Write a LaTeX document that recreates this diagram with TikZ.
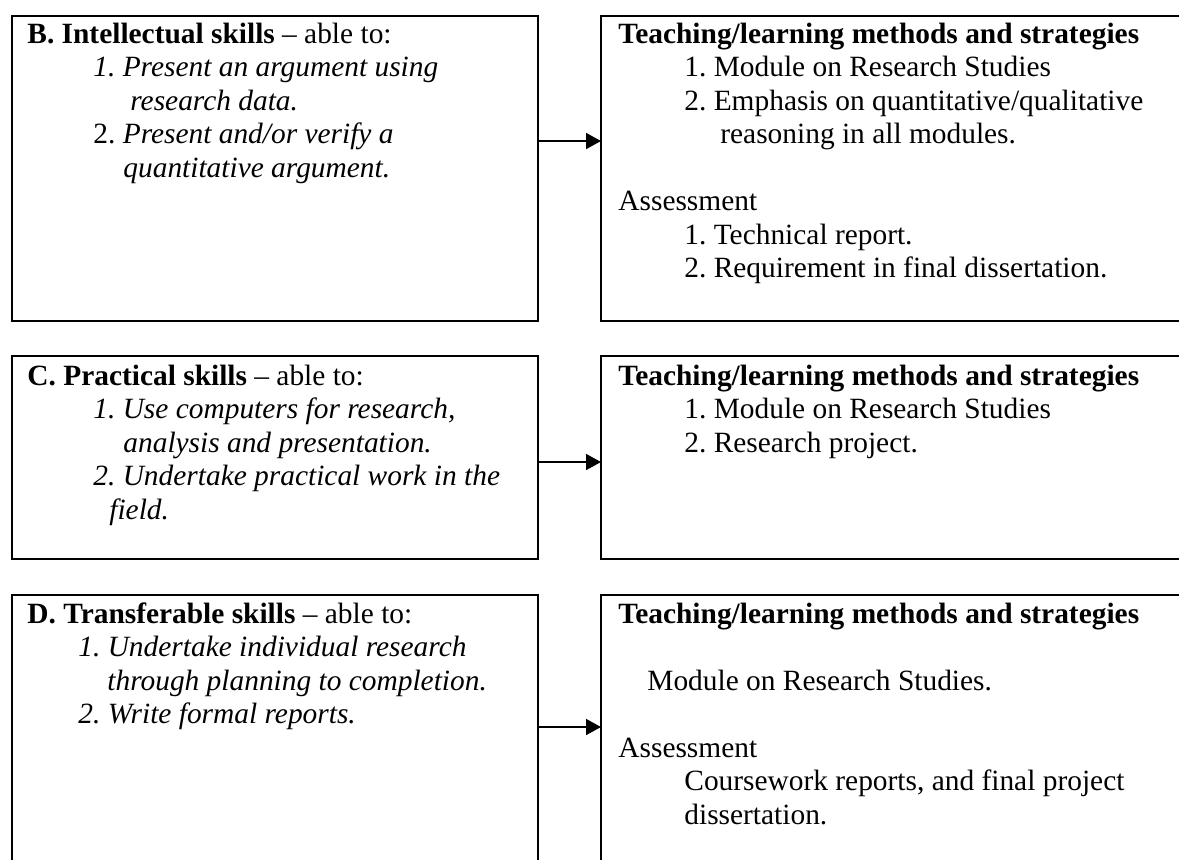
\documentclass[tikz,border=0pt]{standalone}
\usepackage{fontspec}
\setmainfont{Liberation Serif}
\usetikzlibrary{arrows.meta}
\newcommand\tline[2]{\hbox{\hspace*{#1}#2}}
\frenchspacing
\begin{document}
\begin{tikzpicture}[x=0.5pt,y=-0.5pt,
  box/.style={draw,line width=1pt,inner sep=0pt,outer sep=0pt,anchor=north west,minimum width=263pt},
  rbox/.style={box,minimum width=300pt},
  txt/.style={anchor=base west,inner sep=0pt,font=\fontsize{14.7}{16.75}\selectfont\frenchspacing},
  conn/.style={line width=0.8pt,-{Triangle[length=7.5pt,width=8pt]}}]
\useasboundingbox (0,0) rectangle (1179,859);
\clip (0,0) rectangle (1179,859);

% boxes
\node[box,minimum height=152.5pt] (Bl) at (12,16) {};
\node[rbox,minimum height=152.5pt] (Br) at (601,16) {};
\node[box,minimum height=101.5pt] (Cl) at (12,356) {};
\node[rbox,minimum height=101.5pt] (Cr) at (601,356) {};
\node[box,minimum height=150pt] (Dl) at (12,595) {};
\node[rbox,minimum height=150pt] (Dr) at (601,595) {};

% texts
\node[txt] (Blt) at (27,43) {\vtop{%
  \tline{0pt}{\textbf{B. Intellectual skills} – able to:}
  \tline{33pt}{\textit{1. Present an argument using}}
  \tline{51.5pt}{\textit{research data.}}
  \tline{33pt}{2. \textit{Present and/or verify a}}
  \tline{48pt}{\textit{quantitative argument.}}}};
\node[txt] (Brt) at (618,43) {\vtop{%
  \tline{0pt}{\textbf{Teaching/learning methods and strategies}}
  \tline{33pt}{1. Module on Research Studies}
  \tline{33pt}{2. Emphasis on quantitative/qualitative}
  \tline{51pt}{reasoning in all modules.}
  \hbox{}
  \tline{0pt}{Assessment}
  \tline{33pt}{1. Technical report.}
  \tline{33pt}{2. Requirement in final dissertation.}}};

\node[txt] (Clt) at (27,385) {\vtop{%
  \tline{0pt}{\textbf{C. Practical skills} – able to:}
  \tline{33pt}{\textit{1. Use computers for research,}}
  \tline{48pt}{\textit{analysis and presentation.}}
  \tline{33pt}{\textit{2. Undertake practical work in the}}
  \tline{41pt}{\textit{field.}}}};
\node[txt] (Crt) at (618,385) {\vtop{%
  \tline{0pt}{\textbf{Teaching/learning methods and strategies}}
  \tline{33pt}{1. Module on Research Studies}
  \tline{33pt}{2. Research project.}}};

\node[txt] (Dlt) at (27,623) {\vtop{%
  \tline{0pt}{\textbf{D. Transferable skills} – able to:}
  \tline{25.5pt}{\textit{1. Undertake individual research}}
  \tline{40pt}{\textit{through planning to completion.}}
  \tline{25.5pt}{\textit{2. Write formal reports.}}}};
\node[txt] (Drt) at (618,623) {\vtop{%
  \tline{0pt}{\textbf{Teaching/learning methods and strategies}}
  \hbox{}
  \tline{14.5pt}{Module on Research Studies.}
  \hbox{}
  \tline{0pt}{Assessment}
  \tline{33pt}{Coursework reports, and final project}
  \tline{33pt}{dissertation.}}};

% connectors
\path (Bl.north east) ++(0,125) coordinate (aB);
\path (Cl.north east) ++(0,106) coordinate (aC);
\path (Dl.north east) ++(0,132) coordinate (aD);
\draw[conn] (aB) -- (aB -| Br.west);
\draw[conn] (aC) -- (aC -| Cr.west);
\draw[conn] (aD) -- (aD -| Dr.west);
\end{tikzpicture}
\end{document}
